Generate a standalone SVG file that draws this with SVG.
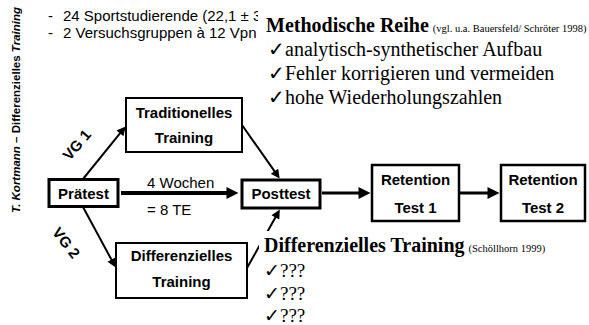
<svg xmlns="http://www.w3.org/2000/svg" width="589" height="325" viewBox="0 0 589 325">
<style>
.box{fill:#fff;stroke:#000}
.lbl{font-family:"Liberation Sans",Arial,sans-serif;font-weight:bold;font-size:15px;text-anchor:middle;fill:#000}
.sans{font-family:"Liberation Sans",Arial,sans-serif;font-size:15px;fill:#000}
.serif{font-family:"Liberation Serif","Times New Roman",serif;fill:#000}
.h{font-size:20px;font-weight:bold}
.small{font-size:10.5px}
.item{font-size:20px}
.q{font-size:19px}
.cn{stroke:#000;fill:none}
</style>
<defs>
<marker id="ah" viewBox="0 0 10 10" refX="5" refY="5" markerWidth="10" markerHeight="9" markerUnits="userSpaceOnUse" orient="auto"><path d="M0,0 L10,5 L0,10 z" fill="#000"/></marker>
<marker id="ahb" viewBox="0 0 10 10" refX="5" refY="5" markerWidth="13" markerHeight="12" markerUnits="userSpaceOnUse" orient="auto"><path d="M0,0 L10,5 L0,10 z" fill="#000"/></marker>
</defs>
<rect width="589" height="325" fill="#fff"/>

<g id="sidebar">
<text transform="translate(20,213) rotate(-90)" font-family="'Liberation Sans',Arial,sans-serif" font-weight="bold" font-size="11.5px" fill="#000"><tspan font-style="italic">T. Kortmann</tspan> – Differenzielles <tspan font-style="italic">Training</tspan></text>
</g>

<g id="subjects">
<text class="sans" x="48" y="21">-</text>
<text class="sans" x="63" y="21">24 Sportstudierende (22,1 ± 3</text>
<text class="sans" x="48" y="38">-</text>
<text class="sans" x="63" y="38">2 Versuchsgruppen à 12 Vpn</text>
</g>

<g id="connectors">
<line class="cn" stroke-width="2" x1="83" y1="179" x2="122.8" y2="129.9" marker-end="url(#ah)"/>
<line class="cn" stroke-width="2" x1="242" y1="125" x2="277.1" y2="174.9" marker-end="url(#ah)"/>
<line class="cn" stroke-width="2" x1="83" y1="207" x2="113.6" y2="263.6" marker-end="url(#ah)"/>
<line class="cn" stroke-width="2" x1="247" y1="268" x2="277.6" y2="213.4" marker-end="url(#ah)"/>
<line class="cn" stroke-width="4" x1="121" y1="193" x2="232.5" y2="193" marker-end="url(#ahb)"/>
<line class="cn" stroke-width="3" x1="322" y1="193" x2="364.5" y2="193" marker-end="url(#ahb)"/>
<line class="cn" stroke-width="3" x1="460" y1="193" x2="493.5" y2="193" marker-end="url(#ahb)"/>
<text class="sans" x="147" y="188">4 Wochen</text>
<text class="sans" x="147" y="215">= 8 TE</text>
<text class="lbl" transform="translate(77,145) rotate(-50)" y="5">VG 1</text>
<text class="lbl" transform="translate(66,243) rotate(52)" y="5">VG 2</text>
</g>

<g id="praetest">
<rect class="box" x="49" y="179.5" width="69" height="27" stroke-width="3"/>
<text class="lbl" x="83.5" y="198.5">Prätest</text>
</g>
<g id="traditionelles">
<rect class="box" x="126" y="98" width="116" height="54" stroke-width="2"/>
<text class="lbl" x="184" y="118">Traditionelles</text>
<text class="lbl" x="184" y="143">Training</text>
</g>
<g id="differenzielles">
<rect class="box" x="116" y="243" width="131" height="55" stroke-width="2"/>
<text class="lbl" x="181.5" y="261">Differenzielles</text>
<text class="lbl" x="181.5" y="287">Training</text>
</g>
<g id="posttest">
<rect class="box" x="242" y="180" width="78" height="28" stroke-width="3"/>
<text class="lbl" x="281" y="199">Posttest</text>
</g>
<g id="retention1">
<rect class="box" x="372" y="165" width="87" height="56" stroke-width="2.5"/>
<text class="lbl" x="415.5" y="185">Retention</text>
<text class="lbl" x="415.5" y="213">Test 1</text>
</g>
<g id="retention2">
<rect class="box" x="501" y="165" width="84" height="56" stroke-width="2.5"/>
<text class="lbl" x="543" y="185">Retention</text>
<text class="lbl" x="543" y="213">Test 2</text>
</g>

<g id="methodische">
<rect x="258" y="6" width="331" height="106" fill="#fff"/>
<text class="serif" x="266" y="32"><tspan class="h">Methodische Reihe</tspan> <tspan class="small">(vgl. u.a. Bauersfeld/ Schröter 1998)</tspan></text>
<text class="serif item" x="268" y="56">✓analytisch-synthetischer Aufbau</text>
<text class="serif item" x="268" y="80">✓Fehler korrigieren und vermeiden</text>
<text class="serif item" x="268" y="104">✓hohe Wiederholungszahlen</text>
</g>

<g id="differenzielles-note">
<rect x="259" y="231" width="330" height="94" fill="#fff"/>
<text class="serif" x="264" y="252"><tspan class="h">Differenzielles Training</tspan> <tspan class="small">(Schöllhorn 1999)</tspan></text>
<text class="serif q" x="264" y="277">✓???</text>
<text class="serif q" x="264" y="300">✓???</text>
<text class="serif q" x="264" y="322">✓???</text>
</g>
</svg>
